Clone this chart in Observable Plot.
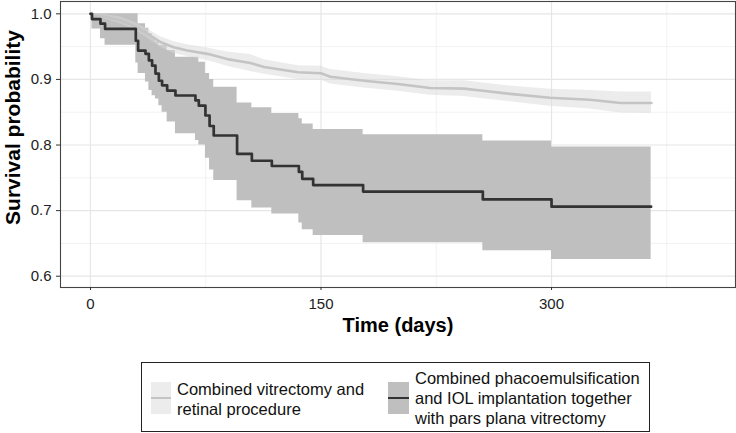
<!DOCTYPE html>
<html><head><meta charset="utf-8">
<script src="https://cdn.jsdelivr.net/npm/d3@7"></script>
<script src="https://cdn.jsdelivr.net/npm/@observablehq/plot@0.6"></script>
<style>
body{margin:0;background:#fff;font-family:"Liberation Sans",Arial,sans-serif;}
#wrap{position:relative;width:736px;height:433px;overflow:hidden;}
#legend{position:absolute;left:141px;top:362px;width:509px;height:70px;border:1px solid #222;box-sizing:border-box;background:#fff;}
.key{position:absolute;top:19px;height:32px;}
.key .ln{position:absolute;left:0;right:0;top:14.5px;height:2.6px;}
.lab{position:absolute;font-size:16.5px;line-height:20px;color:#111;white-space:nowrap;}
</style></head>
<body><div id="wrap"><div id="chart"></div>
<div id="legend">
  <div class="key" style="left:9px;width:20px;background:#ececec"><div class="ln" style="background:#c4c4c4"></div></div>
  <div class="lab" style="left:35px;top:16px">Combined vitrectomy and<br>retinal procedure</div>
  <div class="key" style="left:246px;width:21px;background:#bfbfbf"><div class="ln" style="background:#333"></div></div>
  <div class="lab" style="left:273px;top:5px">Combined phacoemulsification<br>and IOL implantation together<br>with pars plana vitrectomy</div>
</div></div>
<script>
// Group 2 (dark): Combined phaco + IOL + PPV
const darkTime  = [0, 1, 6.5, 9.5, 29.5, 31, 35.8, 38, 40.1, 42.3, 44.5, 46.6, 49.9, 55.3, 68.3, 70.5, 74.8, 77.5, 80.2, 95.4, 105, 118, 135.6, 137.8, 144.9, 177.4, 255.3, 300, 364.8];
const darkSurv  = [1, 0.992, 0.985, 0.977, 0.959, 0.944, 0.939, 0.929, 0.921, 0.909, 0.898, 0.891, 0.883, 0.8755, 0.868, 0.860, 0.845, 0.829, 0.8145, 0.7866, 0.776, 0.768, 0.759, 0.7485, 0.739, 0.729, 0.717, 0.706, 0.706];
const darkLower = [1, 0.977, 0.962, 0.952, 0.925, 0.909, 0.896, 0.883, 0.875, 0.870, 0.860, 0.850, 0.835, 0.817, 0.807, 0.800, 0.780, 0.762, 0.746, 0.715, 0.704, 0.695, 0.681, 0.671, 0.662, 0.651, 0.639, 0.6255, 0.6255];
const darkUpper = [1, 1, 1, 1, 1, 0.985, 0.978, 0.970, 0.963, 0.957, 0.952, 0.952, 0.944, 0.934, 0.934, 0.926, 0.909, 0.900, 0.888, 0.864, 0.857, 0.848, 0.840, 0.832, 0.8236, 0.8155, 0.806, 0.797, 0.797];

// Group 1 (light): Combined vitrectomy and retinal procedure
const lightTime  = [0, 6.5, 19.5, 28, 37, 45.5, 54, 63, 76, 89, 104, 113, 135, 150, 156, 178, 200, 221, 243, 254, 273, 299, 325, 345, 365];
const lightSurv  = [1, 0.997, 0.990, 0.982, 0.970, 0.957, 0.949, 0.944, 0.939, 0.931, 0.925, 0.919, 0.911, 0.9095, 0.904, 0.898, 0.893, 0.887, 0.886, 0.883, 0.878, 0.872, 0.869, 0.864, 0.864];
const lightLower = [1, 0.994, 0.985, 0.976, 0.963, 0.949, 0.940, 0.935, 0.929, 0.920, 0.912, 0.908, 0.900, 0.899, 0.893, 0.887, 0.882, 0.876, 0.874, 0.871, 0.866, 0.859, 0.855, 0.849, 0.848];
const lightUpper = [1, 1.0, 0.995, 0.988, 0.977, 0.965, 0.958, 0.953, 0.948, 0.942, 0.938, 0.930, 0.921, 0.920, 0.915, 0.909, 0.904, 0.898, 0.898, 0.895, 0.890, 0.885, 0.883, 0.881, 0.881];

const xTicks = [0, 150, 300];
const xMinor = [75, 225, 375];
const yTicks = [0.6, 0.7, 0.8, 0.9, 1.0];
const yMinor = [0.65, 0.75, 0.85, 0.95];
const xTitle = "Time (days)";
const yTitle = "Survival probability";

const dark = darkTime.map((t, i) => ({t, s: darkSurv[i], lo: darkLower[i], hi: darkUpper[i]}));
const light = lightTime.map((t, i) => ({t, s: lightSurv[i], lo: lightLower[i], hi: lightUpper[i]}));

const H = 350;
const chart = Plot.plot({
  width: 736, height: H,
  marginLeft: 60, marginRight: 1, marginTop: 1, marginBottom: H - 287,
  x: {domain: [-19.5, 419.7]},
  y: {domain: [0.5828, 1.0188]},
  style: {fontFamily: "Liberation Sans, Arial, sans-serif", background: "white", overflow: "visible"},
  marks: [
    Plot.gridX(xMinor, {stroke: "#ececec", strokeOpacity: 1, strokeWidth: 0.7}),
    Plot.gridY(yMinor, {stroke: "#ececec", strokeOpacity: 1, strokeWidth: 0.7}),
    Plot.gridX(xTicks, {stroke: "#e6e6e6", strokeOpacity: 1, strokeWidth: 1.2}),
    Plot.gridY(yTicks, {stroke: "#e6e6e6", strokeOpacity: 1, strokeWidth: 1.2}),
    Plot.areaY(dark, {x: "t", y1: "lo", y2: "hi", curve: "step-after", fill: "#bfbfbf"}),
    Plot.areaY(light, {x: "t", y1: "lo", y2: "hi", curve: "linear", fill: "#d9d9d9", fillOpacity: 0.5}),
    Plot.line(light, {x: "t", y: "s", curve: "linear", stroke: "#c4c4c4", strokeWidth: 2.6}),
    Plot.line(dark, {x: "t", y: "s", curve: "step-after", stroke: "#333", strokeWidth: 2.7}),
    Plot.frame({stroke: "#444", strokeWidth: 1.1}),
    Plot.axisX(xTicks, {tickSize: 3, tickPadding: 8, fontSize: 15, label: null, color: "#222", stroke: "#333"}),
    Plot.axisY(yTicks, {tickSize: 4, tickPadding: 5, fontSize: 15, label: null, tickFormat: d3.format(".1f"), color: "#222", stroke: "#333"}),
    Plot.text([xTitle], {frameAnchor: "bottom", dy: 30, lineAnchor: "top", fontSize: 20, fontWeight: "bold", fill: "#000", text: d => d}),
    Plot.text([yTitle], {frameAnchor: "left", dx: -47, dy: -17, rotate: -90, textAnchor: "middle", lineAnchor: "middle", fontSize: 21, fontWeight: "bold", fill: "#000", text: d => d, ariaLabel: "ytitle"})
  ]
});
document.getElementById("chart").appendChild(chart);
const yt = chart.querySelector('g[aria-label="ytitle"] text');
if (yt) { yt.setAttribute("textLength", "225"); yt.setAttribute("lengthAdjust", "spacingAndGlyphs"); }
</script>
</body></html>
